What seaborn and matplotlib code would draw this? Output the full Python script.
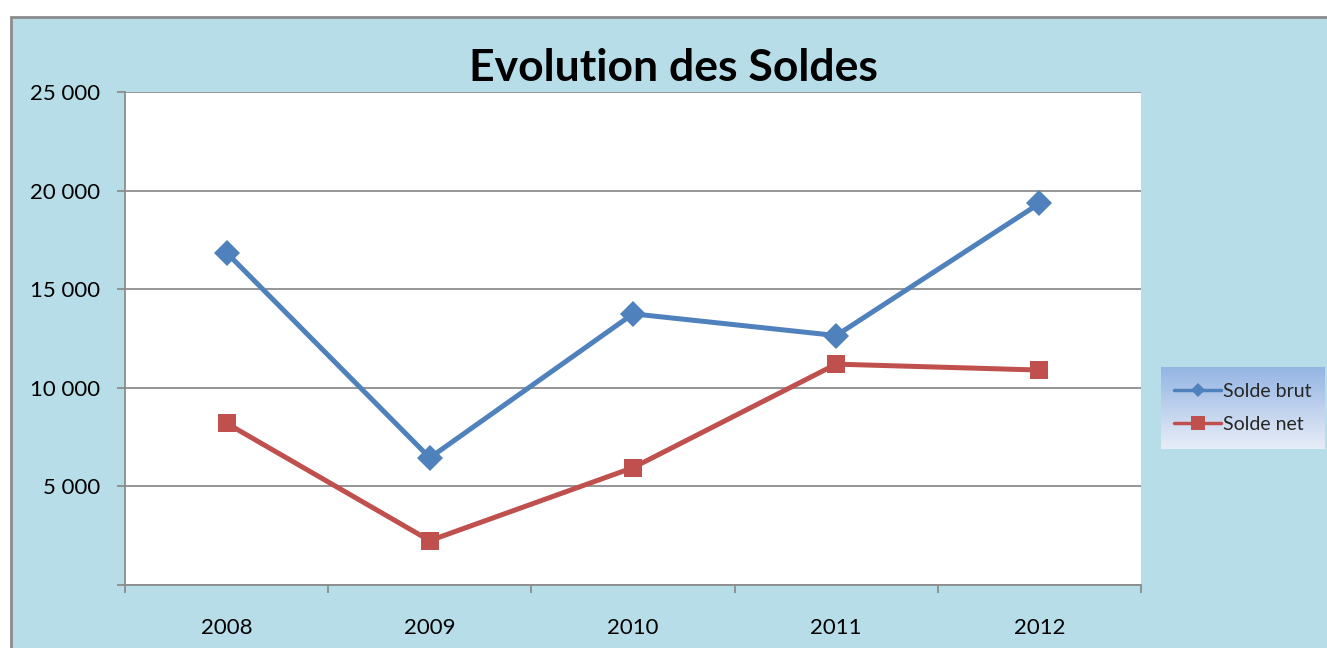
import numpy as np
import pandas as pd
import matplotlib.pyplot as plt
import seaborn as sns
from matplotlib.patches import Rectangle
from matplotlib.lines import Line2D

# valeurs
annees = [2008, 2009, 2010, 2011, 2012]
solde_brut = [16850, 6450, 13750, 12650, 19350]
solde_net = [8200, 2250, 5950, 11200, 10900]
series = ["Solde brut", "Solde net"]
yticks = [0, 5000, 10000, 15000, 20000, 25000]

BLEU = "#4F81BD"
ROUGE = "#C0504D"
FOND = "#B7DDE8"
GRIS = "#8C8C8C"

df = pd.DataFrame({
    "annee": annees * 2,
    "solde": solde_brut + solde_net,
    "serie": [series[0]] * len(annees) + [series[1]] * len(annees),
})

sns.set_theme(style="white")
plt.rcParams["font.family"] = ["Lato", "DejaVu Sans"]

W, H = 1327, 648
fig = plt.figure(figsize=(W / 100, H / 100), dpi=100)
fig.patch.set_facecolor("white")

# cadre bleu du graphique
fig.patches.append(Rectangle((11 / W, -0.05), 1.2, 1 - 16.5 / H + 0.05,
                             transform=fig.transFigure, facecolor=FOND,
                             edgecolor=GRIS, linewidth=2, zorder=-10))

ax = fig.add_axes([125 / W, 1 - 585 / H, (1141 - 125) / W, (585 - 92) / H])
ax.set_facecolor("white")

sns.lineplot(data=df, x="annee", y="solde", hue="serie", style="serie",
             palette={series[0]: BLEU, series[1]: ROUGE},
             markers={series[0]: "D", series[1]: "s"}, dashes=False,
             linewidth=3.6, markersize=13, markeredgewidth=0,
             legend=False, ax=ax, zorder=3)

ax.set_xlim(annees[0] - 0.5, annees[-1] + 0.5)
ax.set_ylim(0, 25000)
ax.set_xticks(annees)
ax.set_xticklabels([str(a) for a in annees])
ax.set_xticks(np.arange(annees[0] - 0.5, annees[-1] + 1), minor=True)
ax.set_yticks(yticks)
ax.set_yticklabels(["" if v == 0 else f"{v:,}".replace(",", " ") for v in yticks])

ax.tick_params(axis="x", which="major", length=0, pad=24, labelsize=16, labelcolor="black")
ax.tick_params(axis="x", which="minor", length=6, width=1.3, color=GRIS, direction="out", bottom=True)
ax.tick_params(axis="y", length=6, width=1.3, color=GRIS, direction="out", left=True,
               pad=12, labelsize=16, labelcolor="black")

ax.grid(axis="y", color=GRIS, linewidth=1.3)
ax.set_axisbelow(True)
for s in ["top", "right"]:
    ax.spines[s].set_visible(False)
for s in ["left", "bottom"]:
    ax.spines[s].set_color(GRIS)
    ax.spines[s].set_linewidth(1.3)
ax.set_xlabel("")
ax.set_ylabel("")

fig.text(673 / W, 1 - 68 / H, "Evolution des Soldes", ha="center", va="center",
         fontsize=32, fontweight="bold", color="black")

# legende avec fond en degrade
lx0, ly0, lx1, ly1 = 1161, 367, 1325, 449
lax = fig.add_axes([lx0 / W, 1 - ly1 / H, (lx1 - lx0) / W, (ly1 - ly0) / H], zorder=4)
grad = np.linspace(0, 1, 100)[:, None]
haut = np.array([0.58, 0.71, 0.89])
bas = np.array([0.91, 0.93, 0.97])
img = haut[None, None, :] * (1 - grad[:, :, None]) + bas[None, None, :] * grad[:, :, None]
lax.imshow(img, aspect="auto", extent=[0, 1, 0, 1])
lax.set_axis_off()

handles = [
    Line2D([], [], color=BLEU, linewidth=2.5, marker="D", markersize=7, markeredgewidth=0),
    Line2D([], [], color=ROUGE, linewidth=2.5, marker="s", markersize=10, markeredgewidth=0),
]
lax.legend(handles, series, loc="center", frameon=False, fontsize=14,
           handlelength=2.4, handletextpad=0.1, labelspacing=0.8,
           borderaxespad=0)

fig.savefig("out.png", dpi=100)
